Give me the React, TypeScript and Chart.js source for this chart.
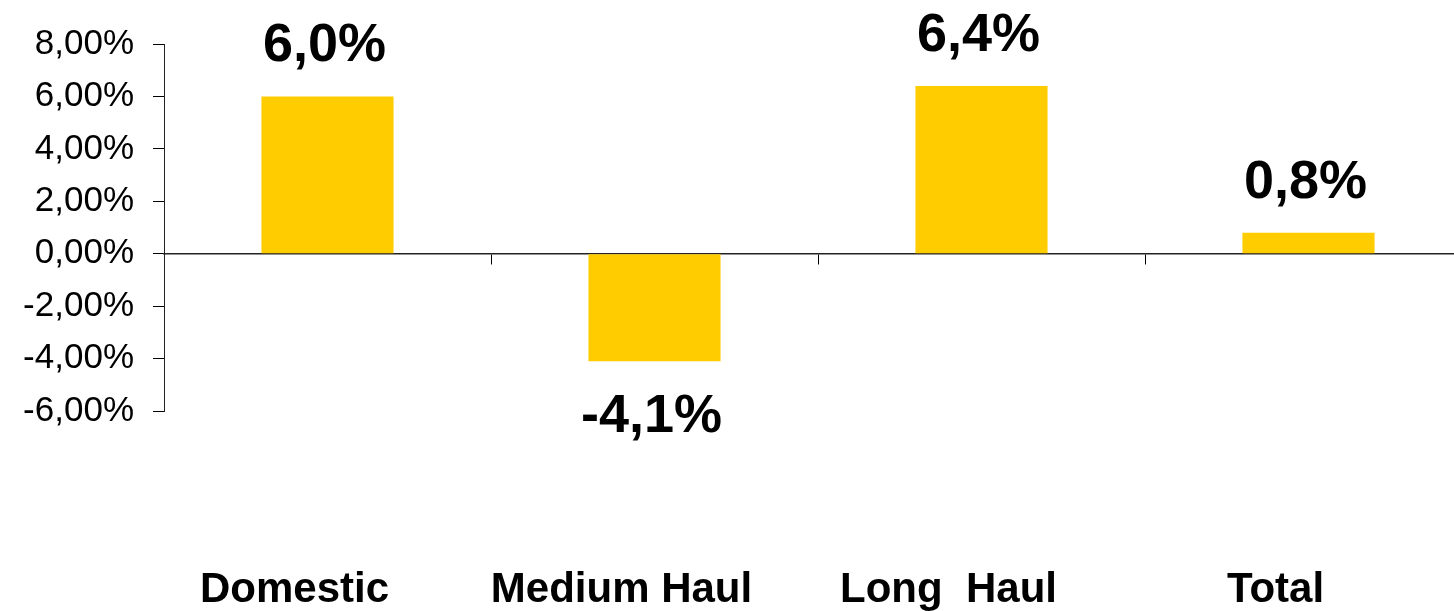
import React, { useEffect, useRef } from "react";
import { Chart, registerables } from "chart.js";

Chart.register(...registerables);

const categories = ["Domestic", "Medium Haul", "Long  Haul", "Total"];
const values = [6.0, -4.1, 6.4, 0.8];
const valueLabels = ["6,0%", "-4,1%", "6,4%", "0,8%"];
const yMin = -6;
const yMax = 8;
const yStep = 2;

const FONT = "'Liberation Sans', Arial, Helvetica, sans-serif";

const dataLabelPlugin = {
  id: "dataLabels",
  afterDatasetsDraw(chart: any) {
    const ctx = chart.ctx;
    const meta = chart.getDatasetMeta(0);
    ctx.save();
    ctx.font = `bold 54px ${FONT}`;
    ctx.fillStyle = "#000";
    ctx.textAlign = "center";
    ctx.textBaseline = "alphabetic";
    meta.data.forEach((bar: any, i: number) => {
      const v = values[i];
      const y = v >= 0 ? bar.y - 35 : bar.y + 71;
      ctx.fillText(valueLabels[i], bar.x - 3, y);
    });
    ctx.restore();
  },
};

export default function App() {
  const ref = useRef<HTMLCanvasElement>(null);
  useEffect(() => {
    document.body.style.margin = "0";
    const chart = new Chart(ref.current as HTMLCanvasElement, {
      type: "bar",
      data: {
        labels: categories,
        datasets: [
          {
            data: values,
            backgroundColor: "#FFCC00",
            borderWidth: 0,
            categoryPercentage: 1,
            barPercentage: 0.404,
            xAxisID: "x",
            yAxisID: "y",
          },
        ],
      },
      options: {
        animation: false,
        responsive: false,
        devicePixelRatio: 1,
        layout: { padding: { top: 44, left: 0, right: 0, bottom: 0 } },
        plugins: {
          legend: { display: false },
          tooltip: { enabled: false },
        },
        scales: {
          x: {
            type: "category",
            position: { y: 0 } as any,
            offset: true,
            grid: {
              display: true,
              offset: true,
              drawOnChartArea: false,
              drawTicks: true,
              tickLength: 10,
              color: "#000",
              lineWidth: 1,
            },
            border: { display: true, color: "#222", width: 1.5 },
            ticks: { display: false },
            afterFit: (scale: any) => {
              scale.paddingLeft = 0;
              scale.paddingRight = 0;
            },
          },
          x2: {
            type: "category",
            position: "bottom",
            labels: categories,
            offset: true,
            grid: { display: false, drawTicks: false },
            border: { display: false },
            ticks: {
              color: "#000",
              font: { family: FONT, size: 42, weight: "bold" },
              padding: 154,
              labelOffset: -33,
              maxRotation: 0,
              autoSkip: false,
            },
            afterFit: (scale: any) => {
              scale.height = 200;
              scale.paddingLeft = 0;
              scale.paddingRight = 0;
            },
          },
          y: {
            type: "linear",
            position: "left",
            min: yMin,
            max: yMax,
            ticks: {
              stepSize: yStep,
              color: "#000",
              padding: 19,
              font: { family: FONT, size: 35 },
              callback: (v: any) => Number(v).toFixed(2).replace(".", ",") + "%",
            },
            grid: {
              display: true,
              drawOnChartArea: false,
              drawTicks: true,
              tickLength: 11,
              color: "#000",
              lineWidth: 1,
            },
            border: { display: true, color: "#222", width: 1 },
            afterFit: (scale: any) => {
              scale.width = 164;
            },
          },
        },
      },
      plugins: [dataLabelPlugin],
    });
    return () => chart.destroy();
  }, []);

  return (
    <div
      style={{
        position: "fixed",
        top: 0,
        left: 0,
        width: 1454,
        height: 611,
        overflow: "hidden",
        background: "#fff",
      }}
    >
      <canvas ref={ref} width={1472} height={611} style={{ width: 1472, height: 611 }} />
    </div>
  );
}
